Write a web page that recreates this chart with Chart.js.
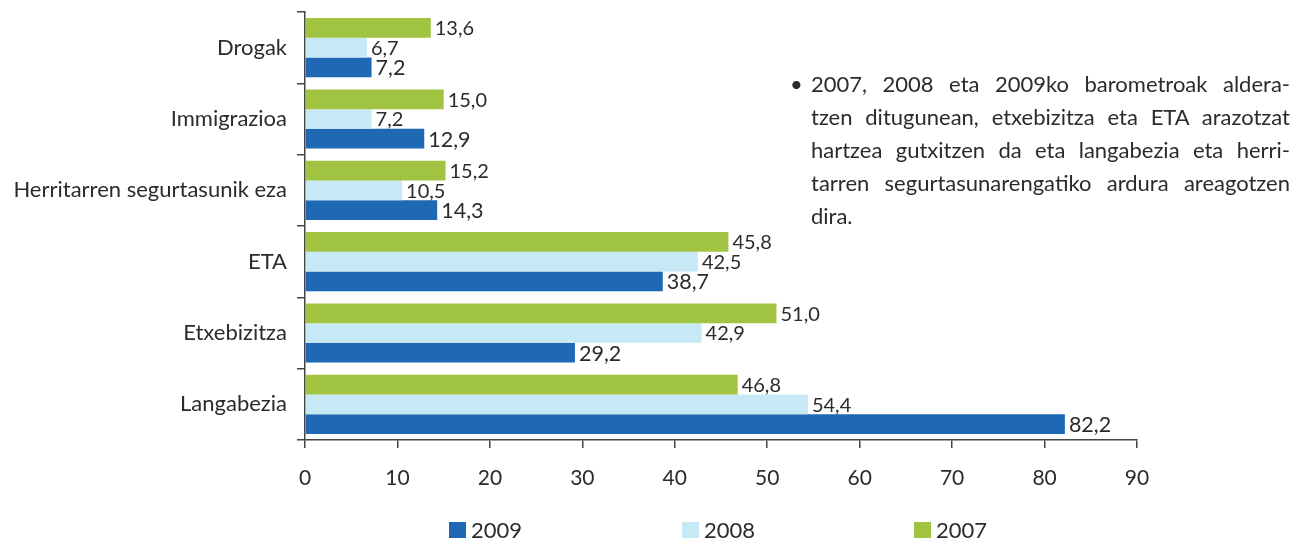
<!DOCTYPE html>
<html>
<head>
<meta charset="utf-8">
<script src="https://cdn.jsdelivr.net/npm/chart.js@4/dist/chart.umd.min.js"></script>
<style>
  body { margin: 0; background: #fff; font-family: Lato, sans-serif; }
  #wrap { position: relative; width: 1303px; height: 543px; }
  #chart { display: block; }
  #note { position: absolute; left: 790px; top: 67px; width: 500px; font-size: 22px; line-height: 33px; color: #2b2b2b; }
  #note .l { display: block; text-align: justify; text-align-last: justify; padding-left: 21px; }
  #note .last { text-align-last: left; }
  #note .dot { position: absolute; left: 0px; top: 0px; font-size: 22px; }
  #legend { position: absolute; top: 516px; left: 0; width: 1303px; font-size: 22px; color: #2b2b2b; }
  #legend .item { position: absolute; top: 0; display: flex; align-items: center; }
  #legend .box { width: 17px; height: 16px; margin-right: 5px; }
</style>
</head>
<body>
<div id="wrap">
  <canvas id="chart" width="1303" height="543"></canvas>
  <div id="note">
    <span class="dot">•</span>
    <span class="l">2007, 2008 eta 2009ko barometroak aldera-</span>
    <span class="l">tzen ditugunean, etxebizitza eta ETA arazotzat</span>
    <span class="l">hartzea gutxitzen da eta langabezia eta herri-</span>
    <span class="l">tarren segurtasunarengatiko ardura areagotzen</span>
    <span class="l last">dira.</span>
  </div>
  <div id="legend"></div>
</div>
<script>
var categories = ['Drogak', 'Immigrazioa', 'Herritarren segurtasunik eza', 'ETA', 'Etxebizitza', 'Langabezia'];
var years = ['2007', '2008', '2009'];
var values2007 = [13.6, 15.0, 15.2, 45.8, 51.0, 46.8];
var values2008 = [6.7, 7.2, 10.5, 42.5, 42.9, 54.4];
var values2009 = [7.2, 12.9, 14.3, 38.7, 29.2, 82.2];
var colors = ['#a0c342', '#c7e9f6', '#1f69b4'];
var xTicks = [0, 10, 20, 30, 40, 50, 60, 70, 80, 90];

var textColor = '#2b2b2b';
var axisColor = '#444';
var labelSizes = [20, 20, 21.5];

function fmt(v) {
  return v.toFixed(1).replace('.', ',');
}

// labels next to the bar ends
var valueLabels = {
  id: 'valueLabels',
  afterDatasetsDraw: function(chart) {
    var ctx = chart.ctx;
    ctx.save();
    ctx.fillStyle = textColor;
    ctx.textBaseline = 'middle';
    ctx.textAlign = 'left';
    chart.data.datasets.forEach(function(ds, i) {
      ctx.font = labelSizes[i] + 'px Lato';
      chart.getDatasetMeta(i).data.forEach(function(bar, j) {
        ctx.fillText(fmt(ds.data[j]), bar.x + 4, bar.y + 1);
      });
    });
    ctx.restore();
  }
};

var ctx = document.getElementById('chart').getContext('2d');
var myChart = new Chart(ctx, {
  type: 'bar',
  data: {
    labels: categories,
    datasets: [
      { label: years[0], data: values2007, backgroundColor: colors[0] },
      { label: years[1], data: values2008, backgroundColor: colors[1] },
      { label: years[2], data: values2009, backgroundColor: colors[2] }
    ]
  },
  options: {
    indexAxis: 'y',
    responsive: false,
    animation: false,
    layout: { padding: { top: 12, right: 166, left: 0, bottom: 43 } },
    datasets: { bar: { categoryPercentage: 0.83, barPercentage: 1.0 } },
    plugins: { legend: { display: false }, tooltip: { enabled: false } },
    scales: {
      x: {
        min: 0,
        max: 90,
        afterBuildTicks: function(scale) {
          scale.ticks = xTicks.map(function(v) { return { value: v }; });
        },
        afterFit: function(scale) { scale.height = 60; },
        border: { display: true, color: axisColor, width: 1.5 },
        grid: { drawOnChartArea: false, drawTicks: true, tickLength: 8, color: axisColor, lineWidth: 1.5 },
        ticks: { color: textColor, font: { family: 'Lato', size: 21 }, padding: 18 }
      },
      y: {
        afterFit: function(scale) {
          scale.width = 305;
          scale.paddingTop = 0;
          scale.paddingBottom = 0;
        },
        border: { display: true, color: axisColor, width: 1.5 },
        grid: { drawOnChartArea: false, drawTicks: true, tickLength: 8, color: axisColor, lineWidth: 1.5 },
        ticks: { color: textColor, font: { family: 'Lato', size: 22 }, padding: 10 }
      }
    }
  },
  plugins: [valueLabels]
});

// legend, 2009 first
var legendPos = [449, 682, 914];
var legend = document.getElementById('legend');
[2, 1, 0].forEach(function(i, k) {
  var item = document.createElement('div');
  item.className = 'item';
  item.style.left = legendPos[k] + 'px';
  item.innerHTML = '<span class="box" style="background:' + colors[i] + '"></span>' + years[i];
  legend.appendChild(item);
});
</script>
</body>
</html>
